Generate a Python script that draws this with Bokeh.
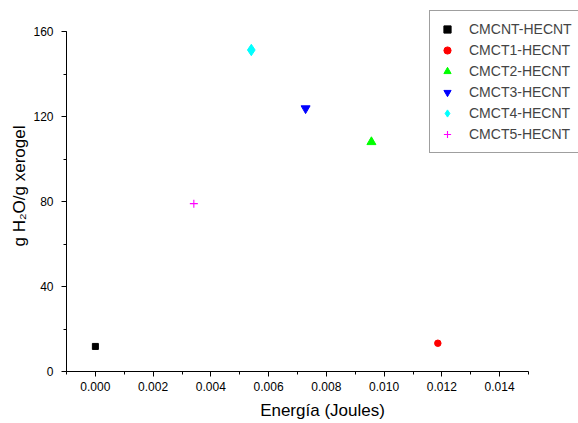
from bokeh.plotting import figure
from bokeh.models import SingleIntervalTicker, PrintfTickFormatter, Legend, LegendItem, Range1d
from bokeh.embed import file_html
from bokeh.resources import INLINE

# Data
names = ["CMCNT-HECNT", "CMCT1-HECNT", "CMCT2-HECNT", "CMCT3-HECNT", "CMCT4-HECNT", "CMCT5-HECNT"]
energy = [0.0, 0.01186, 0.00956, 0.00728, 0.0054, 0.00341]
absorption = [11.8, 13.3, 108.0, 123.8, 151.3, 79.0]

markers = ["square", "circle", "triangle", "inverted_triangle", "diamond", "cross"]
colors = ["#000000", "#ff0000", "#00ff00", "#0000ff", "#00ffff", "#ff00ff"]
sizes = [6, 6.5, 9, 9, 11.5, 8]

FONT = "Liberation Sans"

# frame: left 66, bottom 371; data span 0.016 -> 462 px, 160 -> 340 px
PX_X = 462 / 0.016
PX_Y = 340 / 160
x_end = -0.001 + (578 - 66) / PX_X
y_end = 371 / PX_Y

p = figure(width=578, height=423, output_backend="svg", toolbar_location=None,
           x_range=Range1d(-0.001, x_end), y_range=Range1d(0, y_end),
           min_border_left=66, min_border_right=0, min_border_top=0, min_border_bottom=52)
p.outline_line_color = None
p.xgrid.visible = False
p.ygrid.visible = False
p.background_fill_color = "white"
p.border_fill_color = "white"

items = []
for n, x, y, m, c, s in zip(names, energy, absorption, markers, colors, sizes):
    r = p.scatter([x], [y], marker=m, size=s, fill_color=c, line_color=c,
                  line_width=1.1 if m == "cross" else 1)
    items.append(LegendItem(label=n, renderers=[r]))

p.xaxis.ticker = SingleIntervalTicker(interval=0.002, num_minor_ticks=2)
p.yaxis.ticker = SingleIntervalTicker(interval=40, num_minor_ticks=2)
p.xaxis.formatter = PrintfTickFormatter(format="%.3f")
p.xaxis.bounds = (-0.001, 0.015)
p.yaxis.bounds = (0, 160)

for ax in (p.xaxis, p.yaxis):
    ax.axis_line_color = "black"
    ax.major_tick_line_color = "black"
    ax.minor_tick_line_color = "black"
    ax.major_tick_in = 0
    ax.major_tick_out = 5
    ax.minor_tick_in = 0
    ax.minor_tick_out = 3
    ax.major_label_text_font = FONT
    ax.major_label_text_font_size = "12px"
    ax.major_label_text_color = "black"
    ax.axis_label_text_font = FONT
    ax.axis_label_text_font_size = "17px"
    ax.axis_label_text_font_style = "normal"
    ax.axis_label_text_color = "black"

p.xaxis.axis_label = "Energía (Joules)"
p.yaxis.axis_label = "g H₂O/g xerogel"
p.xaxis.major_label_standoff = 5
p.xaxis.axis_label_standoff = 7
p.yaxis.major_label_standoff = 8
p.yaxis.axis_label_standoff = 1

legend = Legend(items=items, location=(363, 218), orientation="vertical",
                label_text_font=FONT, label_text_font_size="14px",
                label_height=20, glyph_height=18, glyph_width=18,
                spacing=1, padding=8, margin=0, label_standoff=13,
                border_line_color="#404040", border_line_width=1,
                background_fill_color="white", background_fill_alpha=1)
p.add_layout(legend, "center")

open("out.html", "w").write(file_html(p, INLINE))
